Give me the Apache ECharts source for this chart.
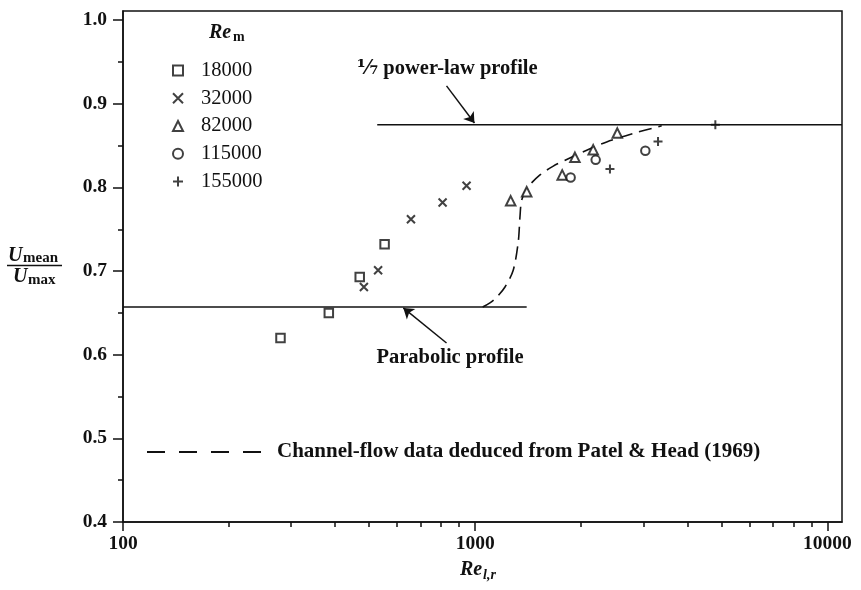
<!DOCTYPE html>
<html>
<head>
<meta charset="utf-8">
<script src="https://cdn.jsdelivr.net/npm/echarts@6/dist/echarts.min.js"></script>
<style>
  html, body { margin: 0; padding: 0; background: #fff; }
  #chart { width: 861px; height: 590px; }
</style>
</head>
<body>
<div id="chart"></div>
<script>
// Mean-to-centreline velocity ratio against Re_{l,r}, for five values of Re_m
const seriesNames = ['18000', '32000', '82000', '115000', '155000'];

const re18000 = [[280, 0.620], [384, 0.650], [470, 0.693], [553, 0.732]];
const re32000 = [[483, 0.681], [530, 0.701], [657, 0.762], [808, 0.782], [945, 0.802]];
const re82000 = [[1261, 0.784], [1400, 0.795], [1766, 0.815], [1919, 0.836], [2163, 0.845], [2532, 0.865]];
const re115000 = [[1866, 0.812], [2198, 0.833], [3041, 0.844]];
const re155000 = [[2413, 0.822], [3304, 0.855], [4806, 0.875]];

// Reference profiles
const parabolicLine = [[100, 0.657], [1400, 0.657]];
const powerLawLine = [[527, 0.875], [11000, 0.875]];

// Channel-flow data (Patel & Head 1969)
const channelFlow = [
  [1050, 0.657], [1101, 0.662], [1152, 0.669], [1215, 0.681], [1282, 0.701],
  [1325, 0.735], [1340, 0.765], [1355, 0.785], [1403, 0.799], [1527, 0.815],
  [1666, 0.8255], [1819, 0.8335], [2073, 0.8446], [2362, 0.8545], [2811, 0.8646],
  [3384, 0.8737]
];

// Axis ticks
const xMajorTicks = [100, 1000, 10000];
const xMinorTicks = [200, 300, 400, 500, 600, 700, 800, 900, 2000, 3000, 4000, 5000, 6000, 7000, 8000, 9000];
const yMajorTicks = [0.4, 0.5, 0.6, 0.7, 0.8, 0.9, 1.0];
const yMinorTicks = [0.45, 0.55, 0.65, 0.75, 0.85, 0.95];

const INK = '#111';
const SERIF = '"Liberation Serif", "DejaVu Serif", serif';

const markerStyle = { color: '#fff', borderColor: INK, borderWidth: 2 };
const crossPath = 'path://M0,0L10,10M10,0L0,10';
const plusPath = 'path://M5,0L5,10M0,5L10,5';

const chart = echarts.init(document.getElementById('chart'), null, { renderer: 'canvas' });

const xBase = { type: 'log', logBase: 10, min: 100, max: 11000, gridIndex: 0, position: 'bottom', splitLine: { show: false } };
const yBase = { type: 'value', min: 0.4, max: 1.011, gridIndex: 0, position: 'left', splitLine: { show: false } };

function scatter(name, data, symbol, size) {
  return {
    name: name, type: 'scatter', data: data, symbol: symbol, symbolSize: size,
    itemStyle: markerStyle, z: 5, silent: true
  };
}

const arrowStyle = {
  silent: true, symbol: ['none', 'arrow'], symbolSize: 10,
  label: { show: false },
  lineStyle: { color: INK, width: 1.5, type: 'solid' },
  emphasis: { disabled: true }
};

chart.setOption({
  animation: false,
  backgroundColor: '#fff',
  grid: {
    left: 123, right: 19, top: 11, bottom: 68,
    show: true, borderColor: INK, borderWidth: 1.5, backgroundColor: 'transparent'
  },
  legend: {
    orient: 'vertical', left: 167, top: 55,
    itemWidth: 10, itemHeight: 10, itemGap: 6.75,
    selectedMode: false,
    textStyle: { fontFamily: SERIF, fontSize: 20.5, color: INK, lineHeight: 20, padding: [0, 0, 0, 13] },
    data: [
      { name: '18000', icon: 'rect' },
      { name: '32000', icon: crossPath },
      { name: '82000', icon: 'triangle' },
      { name: '115000', icon: 'circle' },
      { name: '155000', icon: plusPath }
    ]
  },
  xAxis: [
    Object.assign({}, xBase, {
      axisLine: { show: true, lineStyle: { color: INK, width: 1.5 } },
      axisTick: { show: true, customValues: xMajorTicks, length: 9, lineStyle: { color: INK, width: 1.5 } },
      axisLabel: {
        customValues: xMajorTicks, margin: 12, color: INK,
        fontFamily: SERIF, fontSize: 19.5, fontWeight: 'bold',
        formatter: function (v) { return String(Math.round(v)); }
      }
    }),
    Object.assign({}, xBase, {
      axisLine: { show: false },
      axisTick: { show: true, customValues: xMinorTicks, length: 5, lineStyle: { color: INK, width: 1.5 } },
      axisLabel: { show: false }
    })
  ],
  yAxis: [
    Object.assign({}, yBase, {
      axisLine: { show: true, lineStyle: { color: INK, width: 1.5 } },
      axisTick: { show: true, customValues: yMajorTicks, length: 10, lineStyle: { color: INK, width: 1.5 } },
      axisLabel: {
        customValues: yMajorTicks, margin: 16, color: INK,
        fontFamily: SERIF, fontSize: 19.5, fontWeight: 'bold',
        formatter: function (v) { return v.toFixed(1); }
      }
    }),
    Object.assign({}, yBase, {
      axisLine: { show: false },
      axisTick: { show: true, customValues: yMinorTicks, length: 5, lineStyle: { color: INK, width: 1.5 } },
      axisLabel: { show: false }
    })
  ],
  series: [
    {
      name: 'parabolic', type: 'line', data: parabolicLine, symbol: 'none',
      lineStyle: { color: INK, width: 1.6 }, silent: true, z: 3,
      markLine: Object.assign({}, arrowStyle, {
        data: [[{ coord: [829, 0.614] }, { coord: [625, 0.656] }]]
      })
    },
    {
      name: 'powerLaw', type: 'line', data: powerLawLine, symbol: 'none',
      lineStyle: { color: INK, width: 1.6 }, silent: true, z: 3,
      markLine: Object.assign({}, arrowStyle, {
        data: [[{ coord: [829, 0.9215] }, { coord: [995, 0.877] }]]
      })
    },
    {
      name: 'channel', type: 'line', data: channelFlow, symbol: 'none', smooth: 0.3,
      lineStyle: { color: INK, width: 1.6, type: [13, 7] }, silent: true, z: 3
    },
    scatter(seriesNames[0], re18000, 'rect', 8.5),
    scatter(seriesNames[1], re32000, crossPath, 8),
    scatter(seriesNames[2], re82000, 'triangle', 9.5),
    scatter(seriesNames[3], re115000, 'circle', 8.5),
    scatter(seriesNames[4], re155000, plusPath, 9)
  ],
  graphic: [
    // y-axis name: U_mean / U_max
    { type: 'text', x: 8, y: 256, style: { text: 'U', fill: INK, font: 'italic bold 20px ' + SERIF, textAlign: 'left', textVerticalAlign: 'middle' } },
    { type: 'text', x: 23, y: 258, style: { text: 'mean', fill: INK, font: 'bold 15px ' + SERIF, textAlign: 'left', textVerticalAlign: 'middle' } },
    { type: 'line', shape: { x1: 7, y1: 265.5, x2: 62, y2: 265.5 }, style: { stroke: INK, lineWidth: 1.3 } },
    { type: 'text', x: 13, y: 277, style: { text: 'U', fill: INK, font: 'italic bold 20px ' + SERIF, textAlign: 'left', textVerticalAlign: 'middle' } },
    { type: 'text', x: 28, y: 280, style: { text: 'max', fill: INK, font: 'bold 15px ' + SERIF, textAlign: 'left', textVerticalAlign: 'middle' } },
    // x-axis name: Re_{l,r}
    { type: 'text', x: 460, y: 570, style: { text: 'Re', fill: INK, font: 'italic bold 20px ' + SERIF, textAlign: 'left', textVerticalAlign: 'middle' } },
    { type: 'text', x: 483, y: 575, style: { text: 'l,r', fill: INK, font: 'italic bold 14px ' + SERIF, textAlign: 'left', textVerticalAlign: 'middle' } },
    // legend title: Re_m
    { type: 'text', x: 209, y: 32.5, style: { text: 'Re', fill: INK, font: 'italic bold 20px ' + SERIF, textAlign: 'left', textVerticalAlign: 'middle' } },
    { type: 'text', x: 233, y: 37, style: { text: 'm', fill: INK, font: 'bold 14px ' + SERIF, textAlign: 'left', textVerticalAlign: 'middle' } },
    // profile annotations
    { type: 'text', x: 357, y: 69, style: { text: '\u2150 power-law profile', fill: INK, font: 'bold 20.5px ' + SERIF, textAlign: 'left', textVerticalAlign: 'middle' } },
    { type: 'text', x: 450, y: 358, style: { text: 'Parabolic profile', fill: INK, font: 'bold 20.5px ' + SERIF, textAlign: 'center', textVerticalAlign: 'middle' } },
    // dashed key for the channel-flow curve
    { type: 'line', shape: { x1: 147, y1: 452, x2: 273, y2: 452 }, style: { stroke: INK, lineWidth: 1.8, lineDash: [18, 14] } },
    { type: 'text', x: 277, y: 452, style: { text: 'Channel-flow data deduced from Patel & Head (1969)', fill: INK, font: 'bold 21px ' + SERIF, textAlign: 'left', textVerticalAlign: 'middle' } }
  ]
});
</script>
</body>
</html>
